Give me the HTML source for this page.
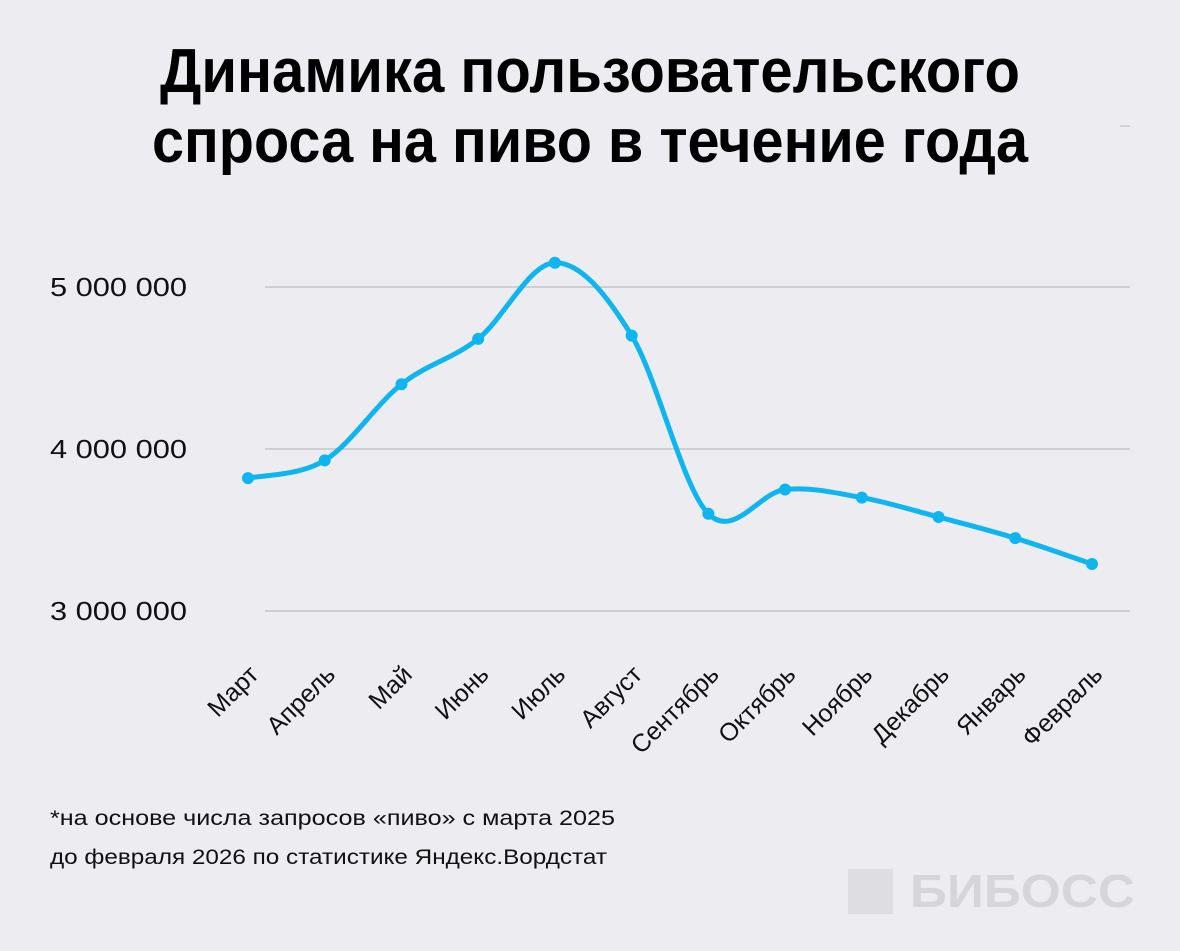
<!DOCTYPE html>
<html><head><meta charset="utf-8"><style>
body{margin:0;background:#ececf1;}
svg{display:block;font-family:"Liberation Sans","DejaVu Sans",sans-serif;}
</style></head><body>
<svg width="1180" height="951" viewBox="0 0 1180 951">
<rect width="1180" height="951" fill="#ececf1"/>
<g font-family="'Liberation Sans Narrow','Liberation Sans',sans-serif" font-weight="bold" font-size="62" fill="#000" text-anchor="middle">
<text x="590" y="92" textLength="860" lengthAdjust="spacingAndGlyphs">Динамика пользовательского</text>
<text x="590" y="162" textLength="876" lengthAdjust="spacingAndGlyphs">спроса на пиво в течение года</text>
</g>
<line x1="1120" y1="126" x2="1130" y2="126" stroke="#c8c8cc" stroke-width="1.5"/>
<g id="grid"></g><g id="ylabels"></g><g id="xlabels"></g>
<path id="line" fill="none" stroke="#0fb5ee" stroke-width="5" stroke-linejoin="round" stroke-linecap="round"/>
<g id="points"></g>
<g font-size="21" fill="#111">
<text x="50" y="825" textLength="565" lengthAdjust="spacingAndGlyphs">*на основе числа запросов «пиво» с марта 2025</text>
<text x="50" y="864" textLength="557" lengthAdjust="spacingAndGlyphs">до февраля 2026 по статистике Яндекс.Вордстат</text>
</g>
<g>
<rect x="848" y="869" width="45" height="45" fill="#dedee2"/>
<text x="910" y="907" font-size="46" font-weight="bold" fill="#d6d6da" textLength="225" lengthAdjust="spacingAndGlyphs">БИБОСС</text>
</g>
</svg>
<script>
const categories=["Март","Апрель","Май","Июнь","Июль","Август","Сентябрь","Октябрь","Ноябрь","Декабрь","Январь","Февраль"];
const values=[3820000,3930000,4400000,4680000,5150000,4700000,3600000,3750000,3700000,3580000,3450000,3290000];
const yTicks=[3000000,4000000,5000000];
const yTickLabels=["3 000 000","4 000 000","5 000 000"];
const NS="http://www.w3.org/2000/svg";
const xS=i=>248+i*(1092-248)/(categories.length-1);
const yS=v=>611-(v-3000000)*162/1000000;
function mk(t,a,p){const e=document.createElementNS(NS,t);for(const k in a)e.setAttribute(k,a[k]);p.appendChild(e);return e;}
const grid=document.getElementById('grid'),yl=document.getElementById('ylabels'),xl=document.getElementById('xlabels'),pts=document.getElementById('points');
yTicks.forEach((v,i)=>{
 const l=mk('line',{x1:265,x2:1130,y1:yS(v),y2:yS(v),stroke:'#c4c4c9','stroke-width':1.5},grid);
 
 
 const t=mk('text',{x:50,y:yS(v)+9,'font-size':26,fill:'#111',textLength:137,lengthAdjust:'spacingAndGlyphs'},yl);
 t.textContent=yTickLabels[i];
 
 
});
categories.forEach((c,i)=>{
 const x=xS(i)+12,y=676;
 const t=mk('text',{x:x,y:y,'font-size':25,'text-anchor':'end',fill:'#111',transform:`rotate(-45 ${x} ${y})`},xl);
 t.textContent=c;
 
 
});
const P=values.map((v,i)=>[xS(i),yS(v)]);
let d=`M${P[0][0]},${P[0][1]}`;
for(let i=0;i<P.length-1;i++){
 const p0=P[Math.max(0,i-1)],p1=P[i],p2=P[i+1],p3=P[Math.min(P.length-1,i+2)];
 const c1=[p1[0]+(p2[0]-p0[0])/6,p1[1]+(p2[1]-p0[1])/6],c2=[p2[0]-(p3[0]-p1[0])/6,p2[1]-(p3[1]-p1[1])/6];
 d+=` C${c1[0]},${c1[1]} ${c2[0]},${c2[1]} ${p2[0]},${p2[1]}`;
}
document.getElementById('line').setAttribute('d',d);
P.forEach(p=>{
 const c=mk('circle',{cx:p[0],cy:p[1],r:6,fill:'#0fb5ee'},pts);
 
 
});
</script>
</body></html>
